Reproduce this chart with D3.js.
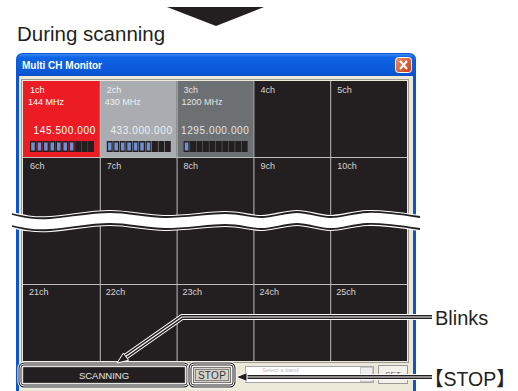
<!DOCTYPE html>
<html>
<head>
<meta charset="utf-8">
<style>
  body { margin: 0; background: #fff; }
  svg { display: block; font-family: "Liberation Sans", Arial, sans-serif; }
</style>
</head>
<body>
<svg width="518" height="391"></svg>
<script src="https://d3js.org/d3.v7.min.js"></script>
<script>
// grid of channels: 5 columns, rows 1-2, a break, then rows 4-5
var columns = [0, 1, 2, 3, 4]
var row1Labels = ["1ch", "2ch", "3ch", "4ch", "5ch"]
var row2Labels = ["6ch", "7ch", "8ch", "9ch", "10ch"]
var row5Labels = ["21ch", "22ch", "23ch", "24ch", "25ch"]
// the three active channels of the first row
var bands = ["144 MHz", "430 MHz", "1200 MHz"]
var freqs = ["145.500.000", "433.000.000", "1295.000.000"]
var levels = [7, 7, 1]          // lit meter segments (of 10)
var cellColors = ["#ec1c24", "#a9acb1", "#6c7073"]
var cellText = ["#ffffff", "#f0f0f0", "#e2e2e2"]
var segments = d3.range(10)
// wavy break: [x, y offset]
var breakWave = [[12, -1], [50, 3], [110, -3], [165, 2], [225, -2], [262, 2], [297, -3], [330, 2], [367, -3], [420, 2]]

var svg = d3.select("svg")

var x = d3.scaleBand().domain(columns).range([23, 407])
var yTop = d3.scaleLinear().domain([0, 1]).range([81, 157])
var yBot = d3.scaleLinear().domain([3, 4]).range([208, 284])
var gridTop = 81, gridBottom = 361

// big pointer triangle at top
svg.append("path")
  .attr("d", "M167,7 L264,7 L216,26 Z")
  .attr("fill", "#231f20")

svg.append("text")
  .attr("x", 17).attr("y", 41)
  .attr("font-size", 20.5)
  .attr("fill", "#231f20")
  .text("During scanning")

// window frame
var defs = svg.append("defs")
var tg = defs.append("linearGradient").attr("id", "title").attr("x1", 0).attr("x2", 0).attr("y1", 0).attr("y2", 1)
tg.append("stop").attr("offset", "0%").attr("stop-color", "#3b8cf5")
tg.append("stop").attr("offset", "15%").attr("stop-color", "#1064e6")
tg.append("stop").attr("offset", "80%").attr("stop-color", "#0a58d8")
tg.append("stop").attr("offset", "100%").attr("stop-color", "#0b4fc8")
var cg = defs.append("linearGradient").attr("id", "close").attr("x1", 0).attr("x2", 1).attr("y1", 0).attr("y2", 1)
cg.append("stop").attr("offset", "0%").attr("stop-color", "#f0906a")
cg.append("stop").attr("offset", "100%").attr("stop-color", "#c53b16")

svg.append("path")
  .attr("d", "M16,60 Q16,53 23,53 L409,53 Q416,53 416,60 L416,391 L16,391 Z")
  .attr("fill", "#0a54d6")
svg.append("path")
  .attr("d", "M17,60 Q17,54 23,54 L409,54 Q415,54 415,60 L415,76 L17,76 Z")
  .attr("fill", "url(#title)")
svg.append("rect")
  .attr("x", 19).attr("y", 76).attr("width", 394).attr("height", 315)
  .attr("fill", "#ece9d8")

svg.append("text")
  .attr("x", 22).attr("y", 69)
  .attr("font-size", 10).attr("font-weight", "bold")
  .attr("fill", "#fff")
  .text("Multi CH Monitor")

// close button
svg.append("rect")
  .attr("x", 395.5).attr("y", 57.5).attr("width", 16).attr("height", 15).attr("rx", 3)
  .attr("fill", "url(#close)").attr("stroke", "#fff").attr("stroke-width", 1)
svg.append("path")
  .attr("d", "M400,61 L407,69 M407,61 L400,69")
  .attr("stroke", "#fff").attr("stroke-width", 2)

// grid
svg.append("rect")
  .attr("x", 21.5).attr("y", 79.5).attr("width", 387).attr("height", 283)
  .attr("fill", "none").attr("stroke", "#9c9a92")
svg.append("rect")
  .attr("x", x(0)).attr("y", gridTop).attr("width", x.range()[1] - x(0)).attr("height", gridBottom - gridTop)
  .attr("fill", "#231f20")

var active = svg.append("g").selectAll("g").data(bands).join("g")
  .attr("transform", function (d, i) { return "translate(" + x(i) + "," + yTop(0) + ")" })
active.append("rect")
  .attr("width", x.bandwidth()).attr("height", yTop(1) - yTop(0))
  .attr("fill", function (d, i) { return cellColors[i] })
active.append("text")
  .attr("x", 5).attr("y", 24)
  .attr("font-size", 9)
  .attr("fill", function (d, i) { return cellText[i] })
  .text(function (d) { return d })
active.append("text")
  .attr("x", x.bandwidth() - 4).attr("y", 53)
  .attr("text-anchor", "end")
  .attr("font-size", 10).attr("letter-spacing", 0.6)
  .attr("fill", function (d, i) { return cellText[i] })
  .text(function (d, i) { return freqs[i] })

var seg = d3.scaleBand().domain(segments).range([7, 71]).paddingInner(0.08)
active.each(function (d, i) {
  var g = d3.select(this)
  g.selectAll("rect.seg").data(segments).join("rect")
    .attr("class", "seg")
    .attr("x", function (s) { return seg(s) }).attr("y", 60)
    .attr("width", seg.bandwidth()).attr("height", 11)
    .attr("fill", "#231f20")
  g.selectAll("rect.lit").data(segments.filter(function (s) { return s < levels[i] })).join("rect")
    .attr("class", "lit")
    .attr("x", function (s) { return seg(s) + 1.2 }).attr("y", 61.5)
    .attr("width", seg.bandwidth() - 2.4).attr("height", 8)
    .attr("fill", "#7090d4")
})

// grid lines
var gridLine = "#bcbcbc"
svg.append("g").selectAll("line").data(columns.slice(1)).join("line")
  .attr("x1", function (c) { return x(c) + 0.5 }).attr("x2", function (c) { return x(c) + 0.5 })
  .attr("y1", gridTop).attr("y2", gridBottom)
  .attr("stroke", gridLine)
svg.append("g").selectAll("line").data([yTop(1), yBot(4)]).join("line")
  .attr("x1", x(0)).attr("x2", x.range()[1])
  .attr("y1", function (d) { return d + 0.5 }).attr("y2", function (d) { return d + 0.5 })
  .attr("stroke", gridLine)

// channel labels
function labels(list, y0, dx) {
  svg.append("g").selectAll("text").data(list).join("text")
    .attr("x", function (d, i) { return x(i) + dx }).attr("y", y0)
    .attr("font-size", 9)
    .attr("fill", function (d, i) { return y0 < yTop(1) && i < 3 ? cellText[i] : "#d6d6d6" })
    .text(function (d) { return d })
}
labels(row1Labels, yTop(0) + 12, 7)
labels(row2Labels, yTop(1) + 12, 7)
labels(row5Labels, yBot(4) + 11, 6)

// wavy break
var upperEdge = d3.line().x(function (p) { return p[0] }).y(function (p) { return 215 + p[1] }).curve(d3.curveNatural)
var lowerEdge = d3.line().x(function (p) { return p[0] }).y(function (p) { return 227 + p[1] }).curve(d3.curveNatural)
var band = d3.area().x(function (p) { return p[0] })
  .y0(function (p) { return 215 + p[1] }).y1(function (p) { return 227 + p[1] }).curve(d3.curveNatural)
svg.append("path").attr("d", band(breakWave)).attr("fill", "#fff")
;[upperEdge, lowerEdge].forEach(function (edge) {
  svg.append("path").attr("d", edge(breakWave)).attr("fill", "none").attr("stroke", "#fff").attr("stroke-width", 4)
  svg.append("path").attr("d", edge(breakWave)).attr("fill", "none").attr("stroke", "#231f20").attr("stroke-width", 1.8)
})

// status bar
svg.append("rect")
  .attr("x", 23).attr("y", 367).attr("width", 162).attr("height", 16)
  .attr("fill", "#231f20").attr("stroke", "#888").attr("stroke-width", 0.6)
svg.append("text")
  .attr("x", 104).attr("y", 378.5).attr("text-anchor", "middle")
  .attr("font-size", 9.5).attr("fill", "#e6e6e6")
  .text("SCANNING")

svg.append("rect")
  .attr("x", 193.5).attr("y", 367.5).attr("width", 37).attr("height", 15)
  .attr("fill", "#d6d3cb").attr("stroke", "#7a7a7a")
svg.append("rect")
  .attr("x", 195.5).attr("y", 369.5).attr("width", 33).attr("height", 11)
  .attr("fill", "none").attr("stroke", "#333").attr("stroke-dasharray", "1,1")
svg.append("text")
  .attr("x", 212).attr("y", 379).attr("text-anchor", "middle")
  .attr("font-size", 10).attr("fill", "#333").attr("letter-spacing", 0.3)
  .text("STOP")

svg.append("rect")
  .attr("x", 245.5).attr("y", 366.5).attr("width", 128).attr("height", 16)
  .attr("fill", "#fff").attr("stroke", "#a5a5a5")
svg.append("rect")
  .attr("x", 360.5).attr("y", 367.5).attr("width", 12).attr("height", 14)
  .attr("fill", "#eeeeee").attr("stroke", "#c8c8c8")
svg.append("text")
  .attr("x", 262).attr("y", 372).attr("font-size", 6).attr("fill", "#c0c0c0")
  .text("Select a band")
svg.append("rect")
  .attr("x", 378.5).attr("y", 365.5).attr("width", 29).attr("height", 18)
  .attr("fill", "#f2f0e8").attr("stroke", "#9a9a9a")
svg.append("text")
  .attr("x", 393).attr("y", 377).attr("text-anchor", "middle")
  .attr("font-size", 8).attr("fill", "#666")
  .text("SET")

// callout highlights
;[[20, 364, 168, 22], [190, 364, 44, 22]].forEach(function (r) {
  [["#fff", 5], ["#231f20", 3], ["#fff", 1]].forEach(function (s) {
    svg.append("rect")
      .attr("x", r[0]).attr("y", r[1]).attr("width", r[2]).attr("height", r[3]).attr("rx", 4)
      .attr("fill", "none").attr("stroke", s[0]).attr("stroke-width", s[1])
  })
})

function callout(d, tip, back) {
  ;[["#fff", 6], ["#231f20", 4], ["#fff", 1.2]].forEach(function (s) {
    svg.append("path").attr("d", d).attr("fill", "none")
      .attr("stroke", s[0]).attr("stroke-width", s[1]).attr("stroke-linejoin", "miter")
  })
  var a = Math.atan2(tip[1] - back[1], tip[0] - back[0])
  var L = 11, W = 4.5
  var bx = tip[0] - L * Math.cos(a), by = tip[1] - L * Math.sin(a)
  var px = -Math.sin(a) * W, py = Math.cos(a) * W
  svg.append("path")
    .attr("d", "M" + tip + " L" + (bx + px) + "," + (by + py) + " L" + (bx - px) + "," + (by - py) + " Z")
    .attr("fill", "#231f20").attr("stroke", "#fff").attr("stroke-width", 1)
}
callout("M432,317 L182,317 L125,357", [117, 363], [182, 317])
callout("M432,377 L245,377", [236, 377], [300, 377])

svg.append("text")
  .attr("x", 435).attr("y", 325)
  .attr("font-size", 20).attr("fill", "#231f20")
  .text("Blinks")
svg.append("text")
  .attr("x", 424).attr("y", 386)
  .attr("font-size", 19.5).attr("fill", "#231f20")
  .attr("font-family", "'Liberation Sans', 'Noto Sans CJK JP', sans-serif")
  .text("【STOP】")
</script>
</body>
</html>
